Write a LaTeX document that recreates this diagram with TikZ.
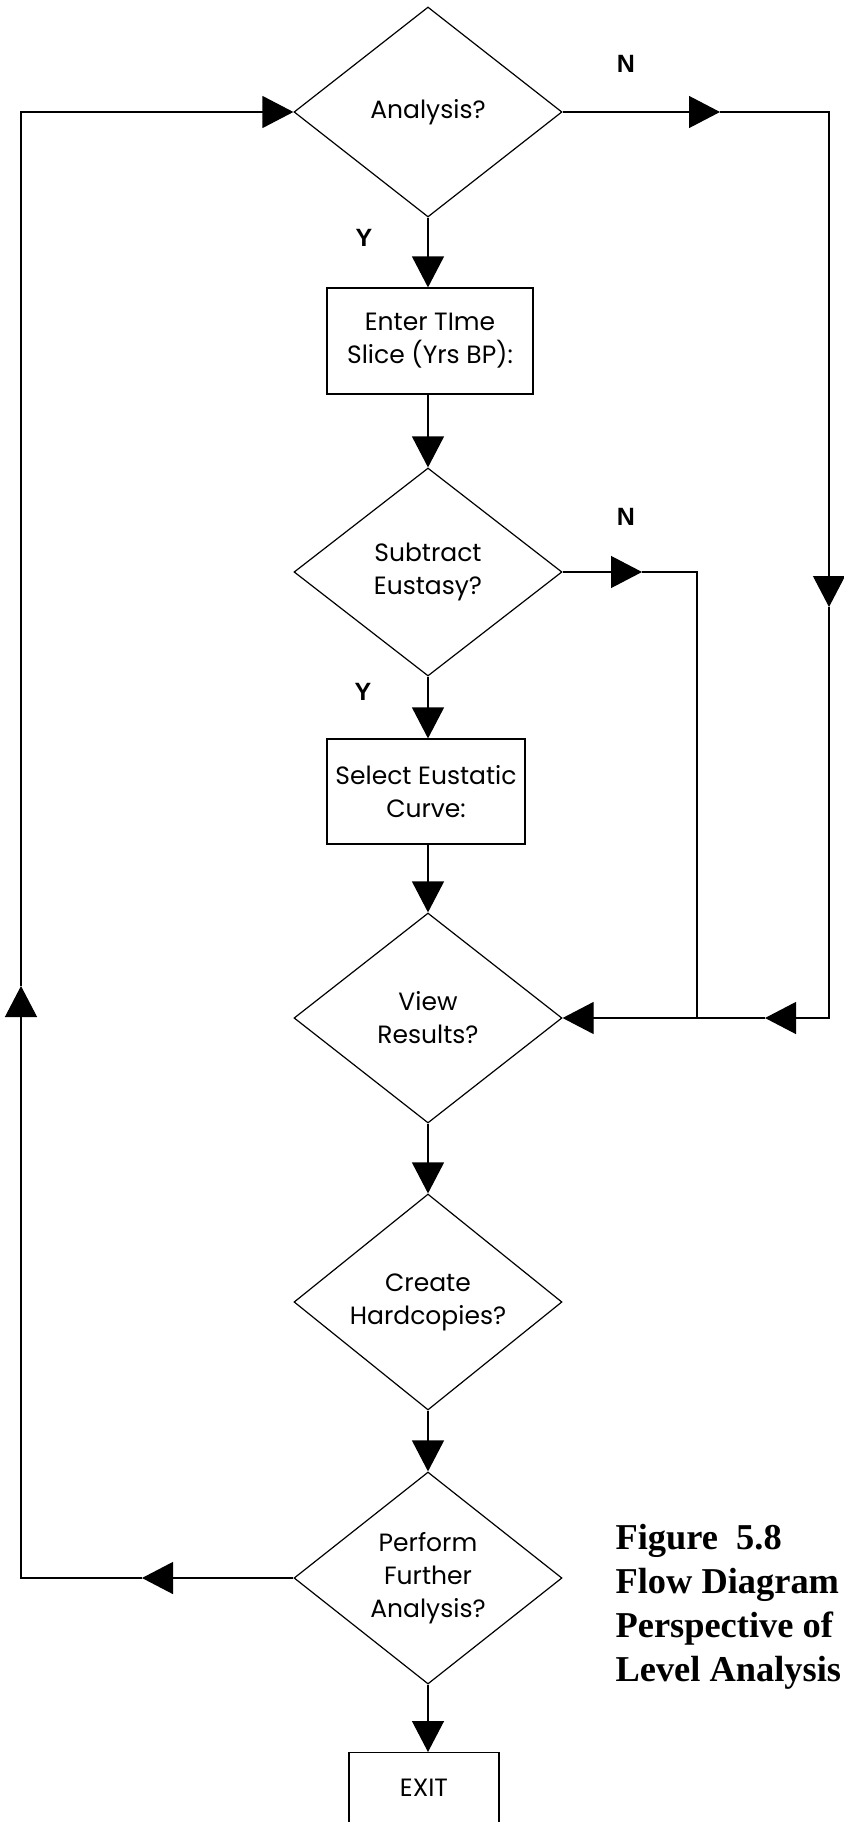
\documentclass[tikz,border=0pt]{standalone}
\usepackage{fontspec}
\usetikzlibrary{shapes.geometric,arrows.meta}
\newfontfamily\geofont{Poppins}
\newfontfamily\labfont{Liberation Sans}
\newfontfamily\capfont{Liberation Serif}

\begin{document}
\begin{tikzpicture}[x=1pt,y=-1pt,
  line width=1.2pt,
  txt/.style={font=\geofont\fontsize{25}{33}\selectfont, align=center, inner sep=0pt},
  decision/.style={txt, draw, diamond, minimum width=268pt, minimum height=210pt},
  procbox/.style={txt, draw, rectangle, minimum height=106pt},
  flow/.style={-{Triangle[length=31pt,width=32pt]}},
  yn/.style={font=\labfont\bfseries\fontsize{25}{28}\selectfont, inner sep=0pt},
  capline/.style={font=\capfont\bfseries\fontsize{36.4}{44}\selectfont, anchor=base west, inner sep=0pt}]

\useasboundingbox (0,0) rectangle (843,1822);

% main column
\node[decision] (an)   at (428,112)  {Analysis?};
\node[procbox, minimum width=206pt] (tslice) at (430,341) {Enter TIme\\Slice (Yrs BP):};
\node[decision, minimum height=208pt] (sub) at (428,572) {Subtract\\Eustasy?};
\node[procbox, minimum width=198pt, minimum height=105pt] (curve) at (426,791.5) {Select Eustatic\\Curve:};
\node[decision] (view) at (428,1018) {View\\Results?};
\node[decision, minimum height=216pt] (hard) at (428,1302) {Create\\Hardcopies?};
\node[decision, minimum height=212pt] (perf) at (428,1578) {Perform\\Further\\Analysis?};
\node[draw, rectangle, minimum width=150pt, minimum height=110pt, anchor=north] (exit) at (424,1752) {};
\node[txt] (exittxt) at (424,1788) {EXIT};

% branch labels
\node[yn] (n1) at (626,64)  {N};
\node[yn] (y1) at (364,238) {Y};
\node[yn] (n2) at (626,517) {N};
\node[yn] (y2) at (363,692) {Y};

% vertical flow
\draw[flow] (an.south)    -- (tslice.north -| an.south);
\draw[flow] (tslice.south -| sub.north) -- (sub.north);
\draw[flow] (sub.south)   -- (curve.north -| sub.south);
\draw[flow] (curve.south -| view.north) -- (view.north);
\draw[flow] (view.south)  -- (hard.north);
\draw[flow] (hard.south)  -- (perf.north);
\draw[flow] (perf.south)  -- (perf.south |- exit.north);

% "no" branch of the first decision, down the right side
\coordinate (ra) at (720,112);
\coordinate (tr) at (829,112);
\coordinate (rd) at (829,607);
\coordinate (br) at (829,1018);
\coordinate (rm) at (765,1018);
\coordinate (jn) at (697,1018);
\draw[flow] (an.east) -- (ra);
\draw[flow] (ra) -- (tr) -- (rd);
\draw[flow] (rd) -- (br) -- (rm);
\draw[flow] (rm) -- (view.east);

% "no" branch of the eustasy decision
\coordinate (sa) at (642,572);
\coordinate (sc) at (697,572);
\draw[flow] (sub.east) -- (sa);
\draw (sa) -- (sc) -- (jn);

% loop back from further analysis
\coordinate (la) at (142,1578);
\coordinate (lb) at (21,1578);
\coordinate (lu) at (21,986);
\coordinate (lt) at (21,112);
\draw[flow] (perf.west) -- (la);
\draw[flow] (la) -- (lb) -- (lu);
\draw[flow] (lu) -- (lt) -- (an.west);

% caption
\node[capline] (c1) at (615,1549) {Figure\hspace{0.5em}5.8};
\node[capline] (c2) at (615,1593) {Flow Diagram};
\node[capline] (c3) at (615,1637) {Perspective of};
\node[capline] (c4) at (615,1681) {Level Analysis};
\end{tikzpicture}
\end{document}
